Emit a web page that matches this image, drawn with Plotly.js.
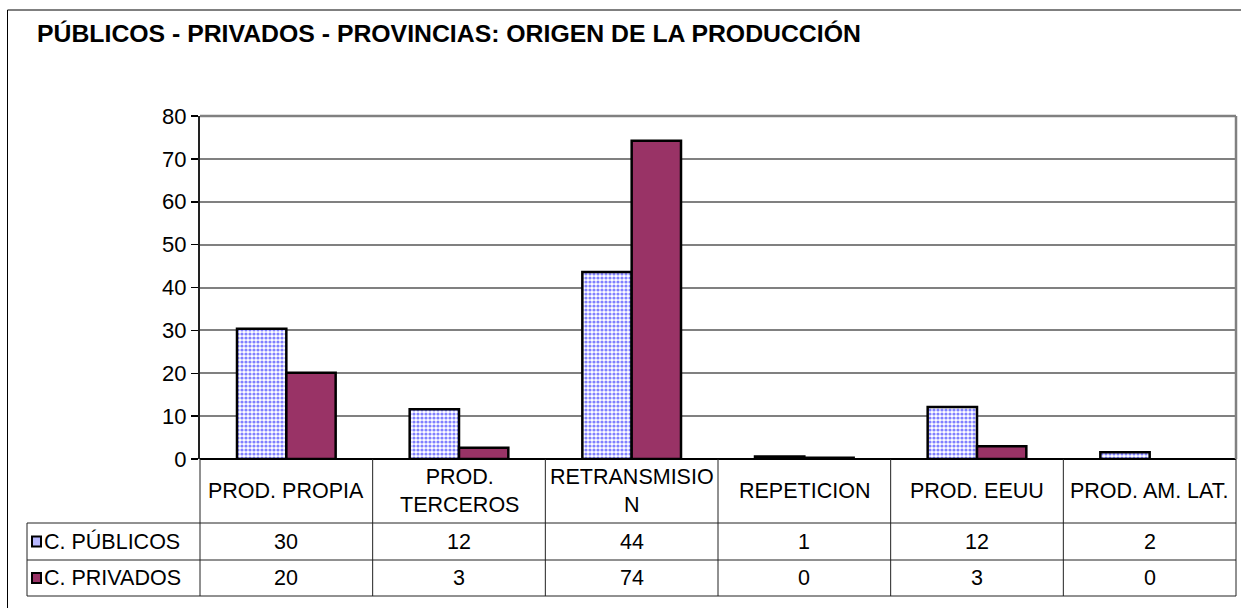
<!DOCTYPE html>
<html>
<head>
<meta charset="utf-8">
<script src="https://cdn.plot.ly/plotly-3.0.1.min.js"></script>
<style>html,body{margin:0;padding:0;background:#fff;}#chart{width:1241px;height:608px;}</style>
</head>
<body>
<div id="chart"></div>
<script>
// ---- data ----
var categories = ["PROD. PROPIA", "PROD. TERCEROS", "RETRANSMISION", "REPETICION", "PROD. EEUU", "PROD. AM. LAT."];
var categoryLabels = ["PROD. PROPIA", "PROD.<br>TERCEROS", "RETRANSMISIO<br>N", "REPETICION", "PROD. EEUU", "PROD. AM. LAT."];
var seriesNames = ["C. PÚBLICOS", "C. PRIVADOS"];
var publicos = [30.4, 11.6, 43.6, 0.6, 12.1, 1.6];
var privados = [20.1, 2.6, 74.2, 0.3, 3.0, 0];
var yTicks = [0, 10, 20, 30, 40, 50, 60, 70, 80];
var titleText = "PÚBLICOS - PRIVADOS - PROVINCIAS: ORIGEN DE LA PRODUCCIÓN";

// ---- geometry helpers (pixel -> paper) ----
var W = 1241, H = 608;
var L = 200, R = 1236, T = 116, B = 459;
function px(x) { return (x - L) / (R - L); }
function py(y) { return (B - y) / (B - T); }

var FONT = "Liberation Sans, Arial, sans-serif";
var pubColor = "#8080ff";
var privColor = "#993366";
var TXT = 21.5;

function edgeWidths(vals) { return vals.map(function (v) { return v > 0 ? 2.5 : 0; }); }

var traces = [
  {
    type: "bar", name: seriesNames[0], x: categories, y: publicos,
    marker: {
      color: "#ffffff",
      pattern: { shape: ".", fgcolor: pubColor, bgcolor: "#ffffff", size: 4, solidity: 0.5 },
      line: { color: "#000000", width: edgeWidths(publicos) }
    },
    hoverinfo: "x+y"
  },
  {
    type: "bar", name: seriesNames[1], x: categories, y: privados,
    marker: { color: privColor, line: { color: "#000000", width: edgeWidths(privados) } },
    hoverinfo: "x+y"
  }
];

var shapes = [];
var annotations = [];
var lineColor = "#222222";

// outer frame
shapes.push({ type: "rect", xref: "paper", yref: "paper", x0: px(7.5), x1: px(1250), y0: py(10), y1: py(620),
  line: { color: "#000000", width: 1 }, fillcolor: "rgba(0,0,0,0)", layer: "below" });
// plot area right border and top border (gray)
shapes.push({ type: "line", xref: "paper", yref: "paper", x0: 1, x1: 1, y0: 0, y1: 1, line: { color: "#808080", width: 2.5 } });
shapes.push({ type: "line", xref: "paper", yref: "paper", x0: 0, x1: 1, y0: 1, y1: 1, line: { color: "#808080", width: 2.5 } });

// table lines
var rowY = [523, 560, 596];
rowY.forEach(function (y) {
  shapes.push({ type: "line", xref: "paper", yref: "paper", x0: px(27), x1: 1, y0: py(y), y1: py(y), line: { color: lineColor, width: 1 } });
});
for (var k = 0; k <= categories.length; k++) {
  var xx = k / categories.length;
  shapes.push({ type: "line", xref: "paper", yref: "paper", x0: xx, x1: xx, y0: py(B), y1: py(596), line: { color: lineColor, width: 1 } });
}
shapes.push({ type: "line", xref: "paper", yref: "paper", x0: px(27), x1: px(27), y0: py(523), y1: py(596), line: { color: lineColor, width: 1 } });

// header labels
categories.forEach(function (c, i) {
  annotations.push({ x: (i + 0.5) / categories.length, xref: "paper", y: py(491), yref: "paper",
    text: categoryLabels[i], showarrow: false, xanchor: "center", yanchor: "middle",
    font: { family: FONT, size: TXT, color: "#000" }, align: "center" });
});
// value rows
var rows = [publicos, privados];
var rowCenters = [541.5, 578];
rows.forEach(function (vals, r) {
  vals.forEach(function (v, i) {
    annotations.push({ x: (i + 0.5) / categories.length, xref: "paper", y: py(rowCenters[r]), yref: "paper",
      text: String(Math.round(v)), showarrow: false, xanchor: "center", yanchor: "middle",
      font: { family: FONT, size: TXT, color: "#000" } });
  });
  annotations.push({ x: px(42), xref: "paper", y: py(rowCenters[r]), yref: "paper",
    text: seriesNames[r], showarrow: false, xanchor: "left", yanchor: "middle",
    font: { family: FONT, size: TXT, color: "#000" } });
});
// legend keys
shapes.push({ type: "rect", xref: "paper", yref: "paper", x0: px(32), x1: px(41), y0: py(536.5), y1: py(546.5),
  fillcolor: "#b8b8ff", line: { color: "#000", width: 2 } });
shapes.push({ type: "rect", xref: "paper", yref: "paper", x0: px(32), x1: px(41), y0: py(573), y1: py(583),
  fillcolor: privColor, line: { color: "#000", width: 2 } });

var layout = {
  width: W, height: H,
  margin: { l: L, r: W - R, t: T, b: H - B, pad: 0 },
  paper_bgcolor: "#ffffff", plot_bgcolor: "#ffffff",
  showlegend: false,
  barmode: "group", bargap: 0.4286, bargroupgap: 0,
  font: { family: FONT, size: TXT, color: "#000" },
  title: { text: "<b>" + titleText + "</b>", xref: "container", yref: "container",
    x: 37 / W, xanchor: "left", y: 1 - 33 / H, yanchor: "middle",
    font: { family: FONT, size: 24.8, color: "#000" } },
  xaxis: { type: "category", showticklabels: false, showgrid: false, zeroline: false, showline: false, ticks: "", fixedrange: true },
  yaxis: { range: [0, 80], tickvals: yTicks, ticktext: yTicks.map(String), showgrid: true, gridcolor: "#808080", gridwidth: 2,
    zeroline: true, zerolinecolor: "#000", zerolinewidth: 2,
    showline: true, linecolor: "#222", linewidth: 2, ticks: "outside", ticklen: 7, tickcolor: "#000", tickwidth: 1.5,
    tickfont: { family: FONT, size: 22, color: "#000" }, fixedrange: true },
  shapes: shapes,
  annotations: annotations
};

Plotly.newPlot("chart", traces, layout, { displayModeBar: false, staticPlot: true });
</script>
</body>
</html>
